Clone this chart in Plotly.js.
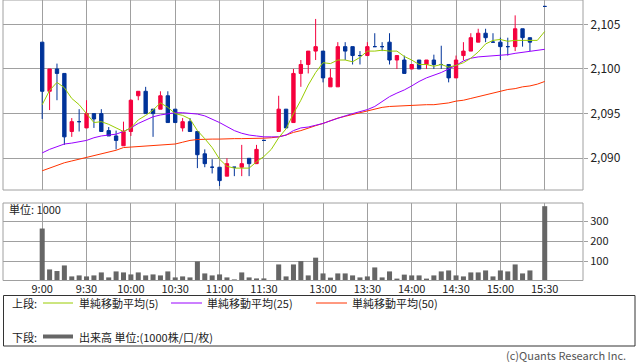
<!DOCTYPE html>
<html><head><meta charset="utf-8">
<script src="https://cdn.plot.ly/plotly-3.0.1.min.js"></script>
<style>html,body{margin:0;padding:0;background:#fff;}#chart{width:638px;height:362px;}</style>
</head><body><div id="chart"></div>
<script>
const times = ["9:00","9:05","9:10","9:15","9:20","9:25","9:30","9:35","9:40","9:45","9:50","9:55",
"10:00","10:05","10:10","10:15","10:20","10:25","10:30","10:35","10:40","10:45","10:50","10:55",
"11:00","11:05","11:10","11:15","11:20","11:25","11:30","12:25",
"12:30","12:35","12:40","12:45","12:50","12:55",
"13:00","13:05","13:10","13:15","13:20","13:25","13:30","13:35","13:40","13:45","13:50","13:55",
"14:00","14:05","14:10","14:15","14:20","14:25","14:30","14:35","14:40","14:45","14:50","14:55",
"15:00","15:05","15:10","15:15","15:20","15:25","15:30"];
const open = [2103,2097.5,2100,2099.5,2093,2094.1,2093.4,2095,2095,2093.1,2092.5,2091.4,2093,2097,2097.5,2095.5,2095.5,2097,2095.5,2093.4,2094.1,2093,2090.5,2089,2089,2088,2089,2089,2090,2089.4,2092,null,2093,2095.5,2094,2099.5,2100.5,2102,2102,2098,2098,2102.5,2102.5,2101.5,2101.5,2102.5,2102.5,2103,2101,2101,2100,2101,2100.5,2101,2100.5,2100.5,2099,2101.5,2102,2103,2104,2103,2103,2102.5,2102.5,2104.5,2103.5,null,2107];
const high = [2103,2100,2100.6,2099.5,2094.5,2095.5,2096.5,2095,2095.5,2093.5,2093.1,2094.1,2096.6,2097.5,2098,2095.5,2097.5,2097.5,2095.5,2094.5,2094.5,2093,2091,2089.9,2089,2090,2089,2091.5,2090,2091.5,2092,null,2097,2095.5,2100,2101,2102,2105.6,2102,2100,2103,2103,2102.5,2102,2103,2104,2103,2104,2101.5,2101.5,2100.5,2101,2101,2101.6,2102.6,2100.5,2101.5,2103,2104,2104.5,2104.5,2104,2103.5,2103.5,2106,2104.5,2103.5,null,2107];
const low = [2094.4,2095.4,2096.5,2091.5,2092.4,2093,2093.4,2093.4,2093,2092.5,2091,2091.4,2092.5,2096.5,2095,2092.4,2095.5,2094,2094,2093,2093,2088.9,2089,2088.3,2086.9,2088,2088,2088,2088,2089.4,2092,null,2093,2093.4,2094,2098,2099.5,2101,2098.5,2098,2098,2101,2100.5,2100.5,2101.5,2102.5,2102,2100.5,2100,2099.5,2100,2100,2100,2100,2100,2098.5,2099,2101,2102,2103,2103,2103,2101,2101.5,2102,2102.5,2102,null,2107];
const close = [2097.5,2100,2099.5,2092.4,2094.1,2094.1,2095,2094.4,2093,2092.5,2092,2093,2096.5,2097.5,2095,2095,2097,2094,2094,2094.1,2093,2090.4,2089.4,2089,2087.5,2089.4,2089,2089.4,2089.4,2091,2092,null,2095.5,2093.4,2099.5,2100.5,2102,2102.5,2099,2099,2102.5,2102,2101.5,2101.5,2102.5,2102.5,2102.5,2101,2101.5,2099.5,2100.5,2100,2101,2100.5,2100.5,2099,2101,2102,2103.5,2104,2103.5,2103,2102.5,2102.5,2104.5,2103.5,2103,null,2107];
const volume = [263,58,50,78,23,28,23,28,43,18,48,43,33,43,28,33,28,48,18,23,18,98,38,28,33,18,8,43,18,13,13,null,83,23,83,100,28,117,38,17,38,38,28,18,23,68,18,48,12,32,28,28,12,28,48,53,28,23,43,43,53,23,53,48,83,38,53,null,375];
const ma5 = [2096.0,2097.6,2098.5,2097.9,2096.7,2096.0,2095.0,2094.0,2094.1,2093.8,2093.4,2093.0,2093.4,2094.3,2094.8,2095.4,2096.2,2095.7,2095.0,2094.8,2094.4,2093.1,2092.2,2091.2,2089.9,2089.1,2088.9,2088.9,2088.9,2089.6,2090.2,2091.0,2092.3,2093.3,2095.0,2096.5,2098.2,2099.6,2100.7,2100.6,2101.0,2101.0,2100.8,2101.3,2102.0,2102.0,2102.1,2102.0,2102.0,2101.4,2101.0,2100.5,2100.5,2100.3,2100.5,2100.2,2100.4,2100.7,2101.2,2101.9,2102.8,2103.2,2103.3,2103.1,2103.2,2103.2,2103.2,2103.2,2104.2];
const ma25 = [2090.6,2091.0,2091.3,2091.6,2091.7,2091.85,2092.0,2092.3,2092.5,2092.6,2092.7,2093.0,2093.4,2093.9,2094.3,2094.65,2094.85,2095.0,2095.1,2095.1,2095.0,2094.95,2094.75,2094.4,2094.0,2093.55,2093.1,2092.8,2092.6,2092.5,2092.4,2092.4,2092.4,2092.6,2093.1,2093.4,2093.5,2093.7,2093.9,2094.2,2094.5,2094.75,2095.0,2095.2,2095.45,2095.8,2096.4,2096.9,2097.3,2097.65,2098.1,2098.6,2099.0,2099.3,2099.6,2100.0,2100.4,2100.9,2101.2,2101.35,2101.4,2101.45,2101.5,2101.6,2101.75,2101.85,2101.95,2102.05,2102.2];
const ma50 = [2088.6,2088.9,2089.2,2089.5,2089.7,2089.9,2090.1,2090.3,2090.5,2090.7,2090.9,2091.2,2091.25,2091.3,2091.35,2091.4,2091.5,2091.55,2091.6,2091.8,2092.0,2092.1,2092.15,2092.15,2092.15,2092.2,2092.2,2092.2,2092.2,2092.25,2092.25,2092.3,2092.4,2092.6,2092.9,2093.1,2093.4,2093.65,2093.9,2094.2,2094.5,2094.7,2094.9,2095.1,2095.3,2095.5,2095.7,2095.8,2095.85,2095.9,2095.9,2095.95,2096.0,2096.0,2096.1,2096.2,2096.4,2096.5,2096.7,2096.9,2097.1,2097.3,2097.5,2097.7,2097.8,2098.0,2098.1,2098.3,2098.6];
const timeTicks = ["9:00","9:30","10:00","10:30","11:00","11:30","13:00","13:30","14:00","14:30","15:00","15:30"];
const priceTicks = [2090,2095,2100,2105];
const volTicks = [100,200,300];

const RED = "#f5003d", BLUE = "#003399", C5 = "#99cc00", C25 = "#9900ff", C50 = "#ff3300";
const GRID = "#a0a0a0", FONT = "Noto Sans CJK JP";
const W = 638, H = 362, L = 3, R = 55, T = 0, B = 81;
const plotW = W - L - R, plotH = H - T - B;
const px = x => (x - L) / plotW;
const py = y => (H - B - y) / plotH;

const idx = times.map((t, i) => i);
const tickIdx = timeTicks.map(t => times.indexOf(t));
const up = close.map((c, i) => c !== null && c > open[i]);
const dn = close.map((c, i) => c !== null && !(c > open[i]));
const sel = (arr, m) => arr.map((v, i) => m[i] ? v : null);

function candle(mask, col) {
  return {type: 'candlestick', x: idx, open: sel(open, mask), high: sel(high, mask),
    low: sel(low, mask), close: sel(close, mask), xaxis: 'x', yaxis: 'y', hoverinfo: 'skip',
    whiskerwidth: 0,
    increasing: {line: {color: col, width: 1}, fillcolor: col},
    decreasing: {line: {color: col, width: 1}, fillcolor: col}};
}
const line = (y, col) => ({type: 'scatter', mode: 'lines', x: idx, y: y, xaxis: 'x', yaxis: 'y',
  line: {color: col, width: 1}, hoverinfo: 'skip'});

const data = [
  candle(up, RED), candle(dn, BLUE),
  line(ma50, C50), line(ma25, C25), line(ma5, C5),
  {type: 'bar', x: idx, y: volume, xaxis: 'x2', yaxis: 'y2', width: 0.68,
   marker: {color: '#666666', line: {width: 0}}, hoverinfo: 'skip'}
];

const x0 = -(42.2 - L) / 7.39, x1 = x0 + plotW / 7.39;
const axBase = {range: [x0, x1], tickvals: tickIdx, ticktext: timeTicks, showgrid: true,
  gridcolor: GRID, gridwidth: 1, zeroline: false, ticks: '', showline: false, fixedrange: true};

const txt = (x, y, s, anchor) => ({xref: 'paper', yref: 'paper', x: px(x), y: py(y), text: s,
  showarrow: false, xanchor: anchor || 'left', yanchor: 'middle', borderpad: 0,
  font: {family: FONT, size: 11, color: '#222'}});
const seg = (xa, xb, y, col, w) => ({type: 'line', xref: 'paper', yref: 'paper',
  x0: px(xa), x1: px(xb), y0: py(y), y1: py(y), line: {color: col, width: w}});

const layout = {
  width: W, height: H, margin: {l: L, r: R, t: T, b: B}, showlegend: false,
  paper_bgcolor: '#fff', plot_bgcolor: '#fff', boxgap: 0.35,
  font: {family: FONT, size: 11, color: '#222'},
  xaxis: Object.assign({}, axBase, {anchor: 'y', showticklabels: false, rangeslider: {visible: false}}),
  xaxis2: Object.assign({}, axBase, {anchor: 'y2', showticklabels: true,
    tickfont: {family: FONT, size: 11, color: '#222'}}),
  yaxis: {domain: [py(190), 1], range: [2086.45, 2107.72], side: 'right', tickvals: priceTicks,
    ticktext: priceTicks.map(v => v.toLocaleString('en-US')), ticks: 'outside', ticklen: 4,
    tickcolor: GRID, showgrid: true, gridcolor: GRID, zeroline: false, fixedrange: true,
    tickfont: {family: FONT, size: 12, color: '#222'}},
  yaxis2: {domain: [0, py(203)], range: [0, 391], side: 'right', tickvals: volTicks,
    ticks: 'outside', ticklen: 4, tickcolor: GRID, showgrid: true, gridcolor: GRID,
    zeroline: false, fixedrange: true, tickfont: {family: FONT, size: 11, color: '#222'}},
  shapes: [
    {type: 'rect', xref: 'paper', yref: 'paper', x0: 0, x1: 1, y0: py(190), y1: py(0),
     line: {color: GRID, width: 1}},
    {type: 'rect', xref: 'paper', yref: 'paper', x0: 0, x1: 1, y0: py(280.5), y1: py(203),
     line: {color: GRID, width: 1}},
    {type: 'rect', xref: 'paper', yref: 'paper', x0: px(3.5), x1: px(635), y0: py(346), y1: py(295.5),
     line: {color: '#333', width: 1}},
    seg(43, 73, 303, C5, 1), seg(171, 202, 303, C25, 1), seg(316, 347, 303, C50, 1),
    seg(43, 73, 336.5, '#666666', 4)
  ],
  annotations: [
    txt(8, 209, '単位: 1000'),
    txt(11, 303, '上段:'), txt(78, 303, '単純移動平均(5)'), txt(206, 303, '単純移動平均(25)'),
    txt(351, 303, '単純移動平均(50)'),
    txt(11, 336.5, '下段:'), txt(78, 336.5, '出来高 単位:(1000株/口/枚)'),
    Object.assign(txt(627, 354.5, '(c)Quants Research Inc.', 'right'), {font: {family: FONT, size: 11, color: '#555'}})
  ]
};
Plotly.newPlot('chart', data, layout, {staticPlot: true, displayModeBar: false});
</script></body></html>
